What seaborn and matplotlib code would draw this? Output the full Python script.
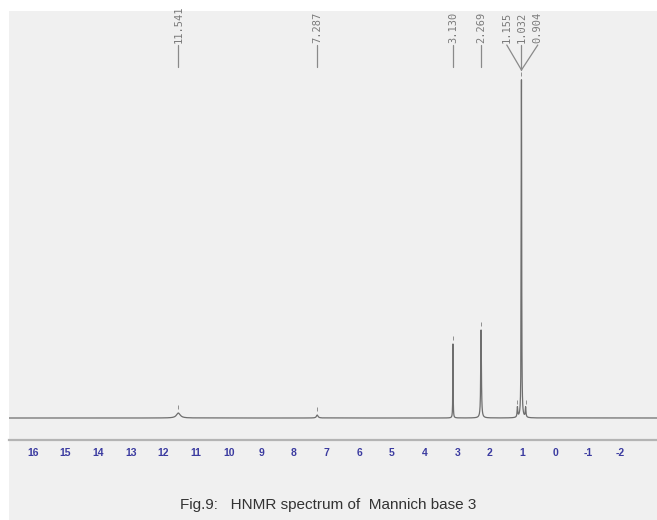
import numpy as np
import pandas as pd
import matplotlib
matplotlib.use("Agg")
import matplotlib.pyplot as plt
from matplotlib.patches import Rectangle
import seaborn as sns

# ---- data ----
peak_ppm = [11.541, 7.287, 3.130, 2.269, 1.155, 1.032, 0.904]
peak_height = [5, 3, 74, 88, 10, 338, 10]          # height above baseline
peak_hwhm = [0.07, 0.03, 0.006, 0.012, 0.012, 0.008, 0.012]
label_text = ["11.541", "7.287", "3.130", "2.269", "1.155", "1.032", "0.904"]
tick_values = list(range(16, -4, -1))
tick_labels = [str(v) for v in range(16, -3, -1)] + [""]
caption = "Fig.9:   HNMR spectrum of  Mannich base 3"

# ---- build spectrum from peaks ----
ppm = np.linspace(-3.2, 16.8, 40001)
inten = np.zeros_like(ppm)
for c, h, w in zip(peak_ppm, peak_height, peak_hwhm):
    inten += h * w**2 / ((ppm - c)**2 + w**2)
df = pd.DataFrame({"ppm": ppm, "I": inten})

sns.set_theme(style="white")
plt.rcParams['font.family'] = ['Liberation Sans', 'DejaVu Sans']

W, H = 657, 520
fig = plt.figure(figsize=(W/100, H/100), dpi=100, facecolor="white")
fig.patches.append(Rectangle((9/W, 0), 1, (H-11)/H, transform=fig.transFigure,
                             facecolor="#f0f0f0", edgecolor="none", zorder=-10))

ax = fig.add_axes([9/W, (H-440)/H, (W-9)/W, 429/H])
ax.set_facecolor("none")
sns.lineplot(data=df, x="ppm", y="I", ax=ax, color="#6e6e6e", linewidth=0.9,
             estimator=None, sort=False)
ax.set_xlim(16.73, -3.12)
ax.set_ylim(-22, 407)
ax.set_xlabel("")
ax.set_ylabel("")
ax.set_yticks([])
for s in ["top", "left", "right"]:
    ax.spines[s].set_visible(False)
ax.spines["bottom"].set_color("#b4b4b4")
ax.spines["bottom"].set_linewidth(1.6)
ax.set_xticks(tick_values)
ax.set_xticklabels(tick_labels)
ax.tick_params(axis="x", direction="out", length=3, width=0.8, color="#b4b4b4",
               pad=3, labelsize=7.5, labelcolor="#3b3ba0")
for t in ax.get_xticklabels():
    t.set_fontweight("bold")

# integration markers above peaks
tops = [h for h in peak_height]
ax.vlines(peak_ppm, [t + 4 for t in tops], [t + 8 for t in tops],
          color="#909090", linewidth=0.7)

# peak labels
single = [0, 1, 2, 3]
for i in single:
    ax.plot([peak_ppm[i], peak_ppm[i]], [351, 373], color="#8a8a8a", lw=0.9)
    ax.text(peak_ppm[i], 375, label_text[i], rotation=90, ha="center", va="bottom",
            fontsize=7.5, color="#7a7a7a", family="DejaVu Sans Mono")
grp = [4, 5, 6]
offs = [-0.45, 0.0, 0.5]
for i, o in zip(grp, offs):
    lx = peak_ppm[5] - o
    ax.plot([lx, peak_ppm[5]], [373, 348], color="#8a8a8a", lw=0.9)
    ax.text(lx, 375, label_text[i], rotation=90, ha="center", va="bottom",
            fontsize=7.5, color="#7a7a7a", family="DejaVu Sans Mono")

fig.text(0.5, (H-505)/H, caption, ha="center", va="center", fontsize=11,
         color="#333333")

fig.savefig("out.png", dpi=100, facecolor="white")
